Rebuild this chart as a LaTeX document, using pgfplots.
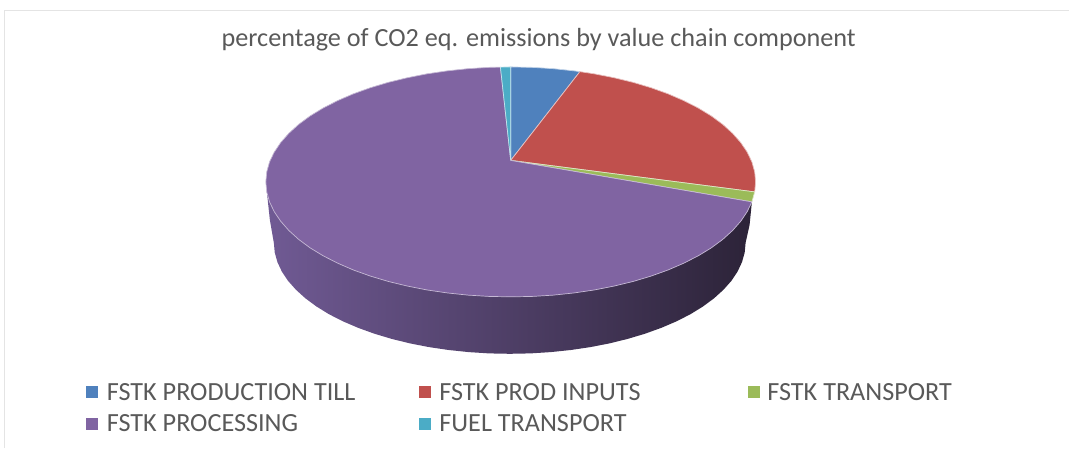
\documentclass[border=0pt]{standalone}
\usepackage{pgfplots}
\pgfplotsset{compat=1.18}
\usepackage{fontspec}
\setmainfont{Carlito}
\definecolor{cBlue}{HTML}{4F81BD}
\definecolor{cRed}{HTML}{C0504D}
\definecolor{cGreen}{HTML}{9BBB59}
\definecolor{cPurple}{HTML}{8064A2}
\definecolor{cTeal}{HTML}{4BACC6}
\definecolor{cText}{HTML}{595959}
\definecolor{cFrame}{HTML}{E4E4E4}
\definecolor{sideL}{RGB}{112,90,148}
\definecolor{sideM}{RGB}{72,58,95}
\definecolor{sideR}{RGB}{44,35,56}
\begin{document}
\begin{tikzpicture}
\begin{axis}[
  scale only axis, width=1070bp, height=448bp,
  xmin=0, xmax=1070, ymin=0, ymax=448, y dir=reverse,
  hide axis, clip=false,
  title={percentage of CO2 eq. emissions by value chain component},
  every axis title shift=0pt,
  title style={at={(axis cs:539,39.5)}, anchor=center, inner sep=0pt, text=cText,
    font=\fontsize{26.3}{30}\selectfont},
  legend columns=3,
  legend cell align=left,
  legend image code/.code={\path[#1,draw=none] (0bp,-6bp) rectangle (12bp,6bp);},
  legend style={at={(axis cs:86,381.3)}, anchor=north west, draw=none, fill=none,
    inner sep=0pt, outer sep=0pt, text=cText,
    font=\fontsize{26.3}{30}\selectfont,
    row sep=9bp,
    /tikz/column 1/.style={column sep=7bp},
    /tikz/column 3/.style={column sep=6bp},
    /tikz/column 5/.style={column sep=5bp},
    /tikz/column 2/.style={column sep=62bp},
    /tikz/column 4/.style={column sep=106bp}},
]
% picture extent
\addplot[forget plot, draw=none] coordinates {(0,0) (1070,448)};
% chart frame
\addplot[forget plot, cFrame, line width=1.2bp] coordinates {(4.5,448) (4.5,10.5) (1070,10.5)};
% side wall
\addplot[forget plot, draw=none, left color=sideL, middle color=sideM, right color=sideR] coordinates {
 (752.3,202) (750,225) (746,243) (745.1,252.7) (742.4,262.3) (738,271.7) (731.8,281) (723.9,289.9)
 (714.4,298.5) (703.3,306.7) (690.8,314.4) (676.9,321.5) (661.7,328) (645.4,333.9) (628,339.1)
 (609.7,343.6) (590.7,347.3) (571.1,350.2) (551,352.3) (530.6,353.6) (510,354)
 (489.4,353.6) (469,352.3) (448.9,350.2) (429.3,347.3) (410.3,343.6) (392,339.1) (374.6,333.9)
 (358.3,328) (343.1,321.5) (329.2,314.4) (316.7,306.7) (305.6,298.5) (296.1,289.9) (288.2,281)
 (282,271.7) (277.6,262.3) (274.9,252.7) (274,243) (270,220) (267,192) (511,182) (752.3,202)
};
% FSTK PRODUCTION TILL
\addplot[fill=cBlue, draw=white!65!cBlue, line width=0.7bp] coordinates {
 (511,160.5) (511,67) (532.4,67.4) (553.5,68.7) (574.4,70.9) (580.2,71.7) (511,160.5)};
\addlegendentry{FSTK PRODUCTION TILL}
% FSTK PROD INPUTS
\addplot[fill=cRed, draw=white!65!cRed, line width=0.7bp] coordinates {
 (511,160.5) (580.2,71.7) (594.8,73.9) (614.5,77.8) (633.5,82.4) (651.5,87.8) (668.5,93.9)
 (684.2,100.7) (698.7,108.1) (711.7,116) (723.2,124.5) (733,133.4) (741.2,142.7) (747.6,152.2)
 (752.3,162) (755.1,172) (756,182) (755.1,192) (511,160.5)};
\addlegendentry{FSTK PROD INPUTS}
% FSTK TRANSPORT
\addplot[fill=cGreen, draw=white!65!cGreen, line width=0.7bp] coordinates {
 (511,160.5) (755.1,192) (752.3,202) (511,160.5)};
\addlegendentry{FSTK TRANSPORT}
% FSTK PROCESSING
\addplot[fill=cPurple, draw=white!55!cPurple, line width=0.7bp] coordinates {
 (511,160.5) (752.3,202) (747.6,211.8) (741.2,221.3) (733,230.6) (723.2,239.5) (711.7,248)
 (698.7,255.9) (684.2,263.3) (668.5,270.1) (651.5,276.2) (633.5,281.6) (614.5,286.2) (594.8,290.1)
 (574.4,293.1) (553.5,295.3) (532.4,296.6) (511,297) (489.6,296.6) (468.5,295.3) (447.6,293.1)
 (427.2,290.1) (407.5,286.2) (388.5,281.6) (370.5,276.2) (353.5,270.1) (337.8,263.3) (323.3,255.9)
 (310.3,248) (298.8,239.5) (289,230.6) (280.8,221.3) (274.4,211.8) (269.7,202) (266.9,192) (266,182)
 (266.9,172) (269.7,162) (274.4,152.2) (280.8,142.7) (289,133.4) (298.8,124.5) (310.3,116)
 (323.3,108.1) (337.8,100.7) (353.5,93.9) (370.5,87.8) (388.5,82.4) (407.5,77.8) (427.2,73.9)
 (447.6,70.9) (468.5,68.7) (489.6,67.4) (500.7,67.2) (511,160.5)};
\addlegendentry{FSTK PROCESSING}
% FUEL TRANSPORT
\addplot[fill=cTeal, draw=white!65!cTeal, line width=0.7bp] coordinates {
 (511,160.5) (500.7,67.2) (511,67) (511,160.5)};
\addlegendentry{FUEL TRANSPORT}
\end{axis}
\end{tikzpicture}
\end{document}
